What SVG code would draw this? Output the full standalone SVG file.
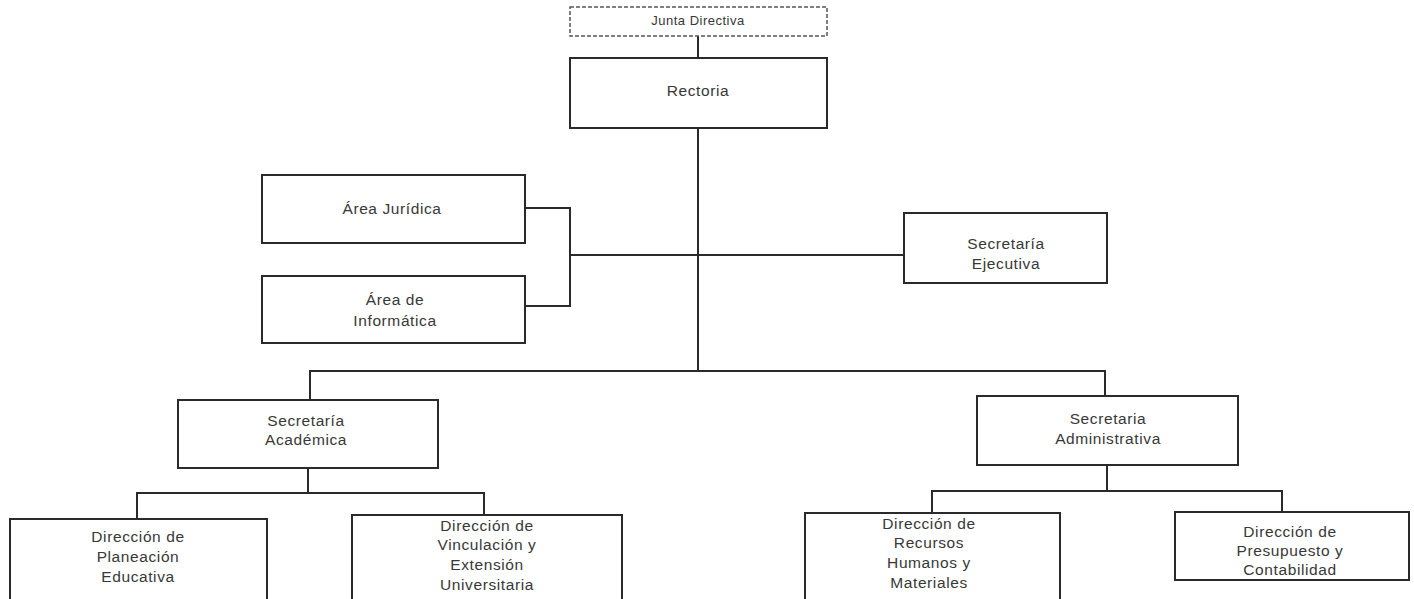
<svg xmlns="http://www.w3.org/2000/svg" width="1414" height="599" viewBox="0 0 1414 599">
<style>
.box{fill:#fff;stroke:#2a2a2a;stroke-width:2}
.dash{fill:#fff;stroke:#555;stroke-width:1.5;stroke-dasharray:4 2}
.t{font-family:"Liberation Sans",Arial,sans-serif;font-size:15.5px;letter-spacing:0.6px;fill:#383838;text-anchor:middle;dominant-baseline:middle}
.s{font-size:13px;letter-spacing:0.5px}
.c{fill:none;stroke:#2a2a2a;stroke-width:2}
</style>
<rect width="1414" height="599" fill="#fff"/>
<g id="connectors">
<path class="c" d="M698 36V58"/>
<path class="c" d="M698 128V371"/>
<path class="c" d="M525 208H570V306H525"/>
<path class="c" d="M570 255H904"/>
<path class="c" d="M310 400V371H1105V396"/>
<path class="c" d="M308 468V493H137V519M308 493H484V515"/>
<path class="c" d="M1107 465V491H932V513M1107 491H1282V512"/>
</g>
<g id="junta"><rect class="dash" x="570" y="7" width="257" height="29"/><text class="t s" x="698" y="22">Junta Directiva</text></g>
<g id="rectoria"><rect class="box" x="570" y="58" width="257" height="70"/><text class="t" x="698" y="92">Rectoria</text></g>
<g id="juridica"><rect class="box" x="262" y="175" width="263" height="68"/><text class="t" x="392" y="210">Área Jurídica</text></g>
<g id="informatica"><rect class="box" x="262" y="276" width="263" height="67"/><text class="t" x="395" y="301">Área de</text><text class="t" x="395" y="322">Informática</text></g>
<g id="ejecutiva"><rect class="box" x="904" y="213" width="203" height="70"/><text class="t" x="1006" y="245">Secretaría</text><text class="t" x="1006" y="265">Ejecutiva</text></g>
<g id="academica"><rect class="box" x="178" y="400" width="260" height="68"/><text class="t" x="306" y="422">Secretaría</text><text class="t" x="306" y="441">Académica</text></g>
<g id="administrativa"><rect class="box" x="977" y="396" width="261" height="69"/><text class="t" x="1108" y="420">Secretaria</text><text class="t" x="1108" y="440">Administrativa</text></g>
<g id="planeacion"><rect class="box" x="10" y="519" width="257" height="90"/><text class="t" x="138" y="538">Dirección de</text><text class="t" x="138" y="558">Planeación</text><text class="t" x="138" y="578">Educativa</text></g>
<g id="vinculacion"><rect class="box" x="352" y="515" width="270" height="94"/><text class="t" x="487" y="527">Dirección de</text><text class="t" x="487" y="546">Vinculación y</text><text class="t" x="487" y="566">Extensión</text><text class="t" x="487" y="586">Universitaria</text></g>
<g id="recursos"><rect class="box" x="805" y="513" width="255" height="96"/><text class="t" x="929" y="525">Dirección de</text><text class="t" x="929" y="544">Recursos</text><text class="t" x="929" y="564">Humanos y</text><text class="t" x="929" y="584">Materiales</text></g>
<g id="presupuesto"><rect class="box" x="1175" y="512" width="234" height="68"/><text class="t" x="1290" y="533">Dirección de</text><text class="t" x="1290" y="552">Presupuesto y</text><text class="t" x="1290" y="571">Contabilidad</text></g>
</svg>
